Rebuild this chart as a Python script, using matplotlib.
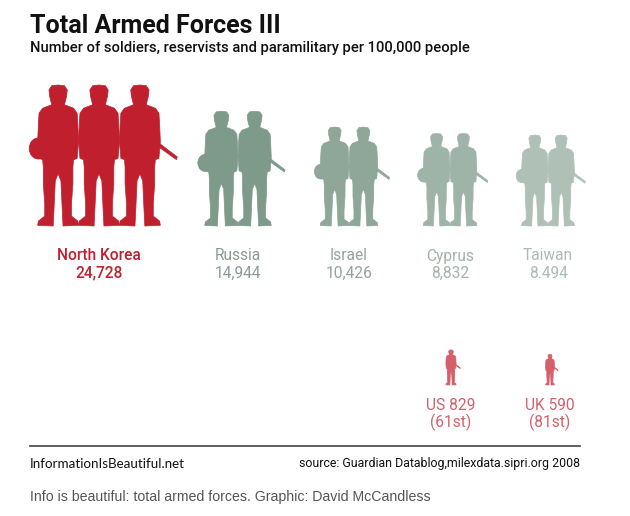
import matplotlib
matplotlib.use("Agg")
import matplotlib.pyplot as plt
from matplotlib.patches import Polygon, Ellipse

countries = ["North Korea", "Russia", "Israel", "Cyprus", "Taiwan"]
per_100k = [24728, 14944, 10426, 8832, 8494]
value_labels = ["24,728", "14,944", "10,426", "8,832", "8.494"]
n_soldiers = [3, 2, 2, 2, 2]

compare = ["US", "UK"]
compare_vals = [829, 590]
compare_ranks = ["61st", "81st"]

# layout / style
col_x = [99, 238, 349, 450, 548]
cmp_x = [451, 550]
group_colors = ["#c01f2e", "#7e9a8b", "#8ea798", "#9fb4a8", "#afc1b6"]
text_colors = ["#c01f2e", "#8c9b92", "#95a49b", "#a4b2a9", "#adbab2"]
cmp_color = "#d5606a"
top_base = 226
cmp_base = 385
max_h = 141


def height_for(v):
    return max_h * (v / per_100k[0]) ** 0.41


# right half of a standing soldier, unit height, x from centre
half = [
    (0.00, 1.00), (0.045, 0.995), (0.065, 0.965), (0.06, 0.92), (0.05, 0.88),
    (0.045, 0.86), (0.11, 0.835), (0.135, 0.80), (0.14, 0.72), (0.145, 0.60),
    (0.135, 0.48), (0.11, 0.47), (0.105, 0.42), (0.105, 0.30), (0.095, 0.16),
    (0.095, 0.07), (0.14, 0.035), (0.145, 0.005), (0.035, 0.0), (0.03, 0.10),
    (0.02, 0.32), (0.0, 0.37),
]
outline = half + [(-x, y) for x, y in reversed(half)]


def soldier(ax, cx, base, h, color, pack=False, rifle=False):
    pts = [(cx + x * h, base - y * h) for x, y in outline]
    ax.add_patch(Polygon(pts, closed=True, fc=color, ec=color, lw=0.5))
    if pack:
        ax.add_patch(Ellipse((cx - 0.14 * h, base - 0.55 * h), 0.13 * h, 0.15 * h,
                             fc=color, ec=color, lw=0.5))
    if rifle:
        r = [(0.10, 0.615), (0.265, 0.49), (0.26, 0.47), (0.10, 0.585)]
        ax.add_patch(Polygon([(cx + x * h, base - y * h) for x, y in r],
                             closed=True, fc=color, ec=color, lw=0.5))


fig = plt.figure(figsize=(6.3, 5.16), dpi=100)
ax = fig.add_axes([0, 0, 1, 1])
ax.set_xlim(0, 630)
ax.set_ylim(516, 0)
ax.axis("off")

ax.text(30, 26, "Total Armed Forces III", fontsize=18, fontweight="bold",
        family="Roboto", color="#111111", va="center", ha="left")
ax.text(30, 48, "Number of soldiers, reservists and paramilitary per 100,000 people",
        fontsize=10.6, fontweight="medium", family="Roboto", color="#111111",
        va="center", ha="left")

for i in range(len(countries)):
    h = height_for(per_100k[i])
    n = n_soldiers[i]
    step = 0.29 * h
    for k in range(n):
        cx = col_x[i] + (k - (n - 1) / 2) * step
        soldier(ax, cx, top_base, h, group_colors[i],
                pack=(k == 0), rifle=(k == n - 1))
    weight = "medium" if i == 0 else "normal"
    ax.text(col_x[i], 256, countries[i], fontsize=11.2, family="Roboto",
            fontweight=weight, color=text_colors[i], ha="center", va="center")
    ax.text(col_x[i], 273, value_labels[i], fontsize=11.2, family="Roboto",
            fontweight=weight, color=text_colors[i], ha="center", va="center")

for j in range(len(compare)):
    h = height_for(compare_vals[j])
    soldier(ax, cmp_x[j], cmp_base, h, cmp_color, rifle=True)
    ax.text(cmp_x[j], 405, f"{compare[j]} {compare_vals[j]}", fontsize=11.2,
            family="Roboto", color=cmp_color, ha="center", va="center")
    ax.text(cmp_x[j], 422, f"({compare_ranks[j]})", fontsize=11.2,
            family="Roboto", color=cmp_color, ha="center", va="center")

ax.plot([30, 580], [446, 446], color="#444444", lw=1.2)
ax.text(30, 464, "InformationIsBeautiful.net", fontsize=9.6, family="Lato",
        color="#111111", ha="left", va="center")
ax.text(580, 464, "source: Guardian Datablog,milexdata.sipri.org 2008", fontsize=8.9,
        family="Roboto", color="#111111", ha="right", va="center")
ax.text(30, 497, "Info is beautiful: total armed forces. Graphic: David McCandless",
        fontsize=10.2, family="Liberation Sans", color="#555555", ha="left", va="center")

fig.savefig("out.png", dpi=100)
